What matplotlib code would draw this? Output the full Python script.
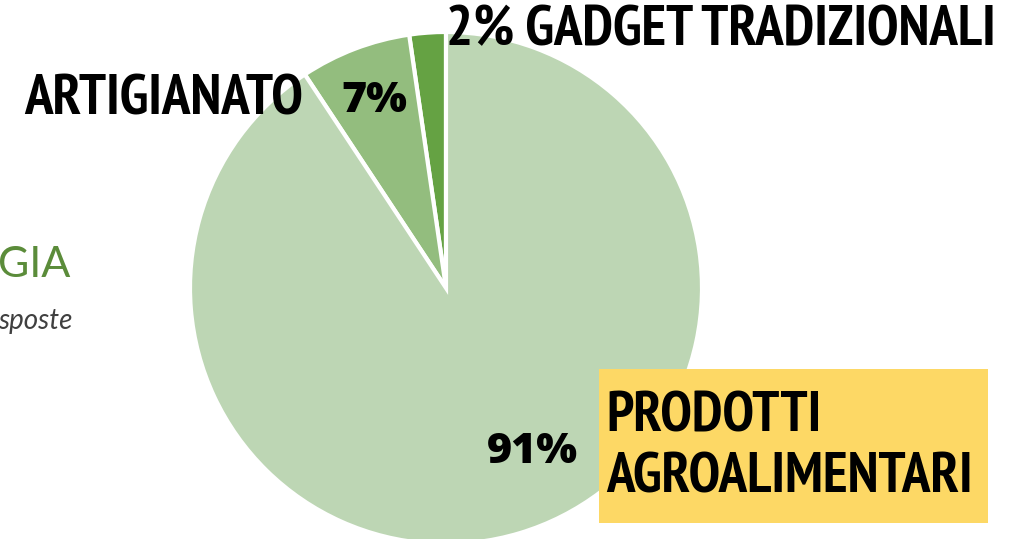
import matplotlib
matplotlib.use('Agg')
import matplotlib.pyplot as plt
from matplotlib import font_manager
from matplotlib.patches import Rectangle

# data
categories = ['GADGET TRADIZIONALI', 'ARTIGIANATO', 'PRODOTTI', 'AGROALIMENTARI']
shares = [2.3, 7.0, 90.7]
pct_labels = ['2%', '7%', '91%']
colors = ['#65a243', '#93bd7e', '#bdd6b4']


def weight_num(w):
    if isinstance(w, int):
        return w
    return {'bold': 700, 'heavy': 800, 'black': 900}.get(str(w), 400)


# look for a bold condensed face among the installed fonts
cands = []
for f in font_manager.fontManager.ttflist:
    is_narrow = ('Narrow' in f.name or 'Condensed' in f.name
                 or 'condensed' in str(f.stretch))
    if is_narrow and weight_num(f.weight) >= 700 and f.style == 'normal':
        cands.append(f)
cands.sort(key=lambda f: ('Narrow' not in f.name, f.name))
if cands:
    cond_fp = font_manager.FontProperties(fname=cands[0].fname, size=41)
else:
    cond_fp = font_manager.FontProperties(family='DejaVu Sans', weight='bold',
                                          stretch='condensed', size=41)

W, H = 1015, 539
fig = plt.figure(figsize=(W / 100, H / 100), dpi=100)
ax = fig.add_axes([0, 0, 1, 1])

# pie centre / radius in pixel units (y axis flipped)
cx, cy, r = 446, 288, 256
wedges, _ = ax.pie(shares, colors=colors, startangle=-90, counterclock=False,
                   center=(cx, cy), radius=r, frame=True,
                   wedgeprops=dict(edgecolor='white', linewidth=3))
ax.set_xlim(0, W)
ax.set_ylim(H, 0)
ax.set_aspect('auto')
ax.axis('off')

# side text from the slide behind the chart
ax.text(-2, 265, 'GIA', color='#5b8c3a', fontsize=31, family='Lato',
        va='center', ha='left')
ax.text(-2, 321, 'sposte', color='#404040', fontsize=20, family='Lato',
        style='italic', va='center', ha='left')

# labels
ax.text(446, 31, pct_labels[0] + ' ' + categories[0],
        va='center', ha='left', fontproperties=cond_fp)
ax.text(303, 100, categories[1], va='center', ha='right',
        fontproperties=cond_fp)
ax.text(374, 101, pct_labels[1], fontsize=31, family='Open Sans',
        weight='heavy', va='center', ha='center')
ax.text(532, 452, pct_labels[2], fontsize=31, family='Open Sans',
        weight='heavy', va='center', ha='center')

ax.add_patch(Rectangle((599, 369), 389, 154, facecolor='#fdd865',
                       edgecolor='none', zorder=3))
ax.text(606, 417, categories[2], va='center', ha='left', zorder=4,
        fontproperties=cond_fp)
ax.text(606, 478, categories[3], va='center', ha='left', zorder=4,
        fontproperties=cond_fp)

fig.savefig('out.png', dpi=100)
